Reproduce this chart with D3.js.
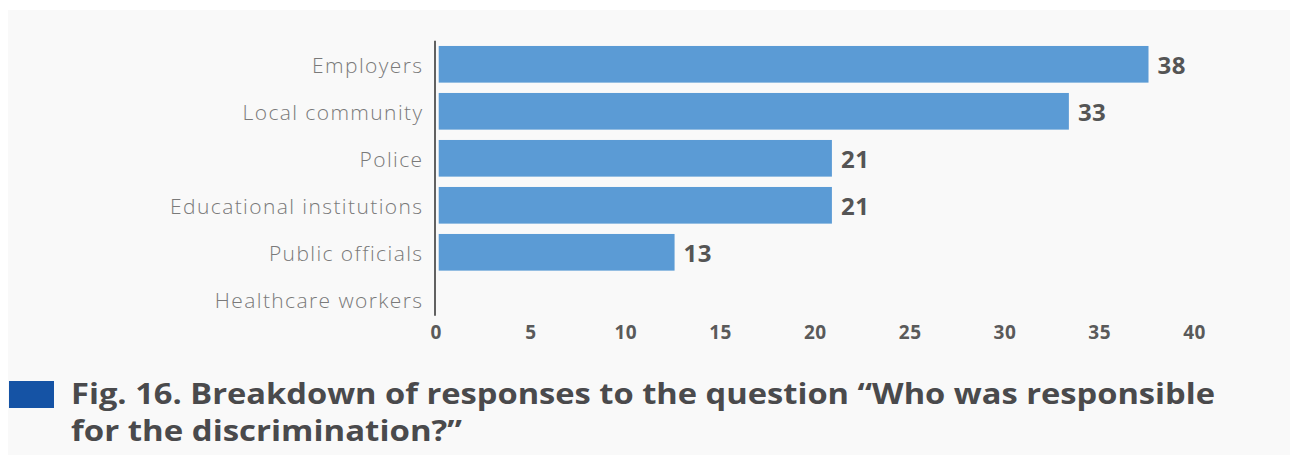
<!DOCTYPE html>
<html>
<head>
<meta charset="utf-8">
<script src="https://cdn.jsdelivr.net/npm/d3@7/dist/d3.min.js"></script>
<style>
html, body { margin: 0; padding: 0; background: #ffffff; }
svg { display: block; }
</style>
</head>
<body>
<svg id="chart" width="1290" height="455"></svg>
<script>
const categories = ["Employers", "Local community", "Police", "Educational institutions", "Public officials", "Healthcare workers"];
const values = [37.6, 33.4, 20.9, 20.9, 12.6, 0];
const xTicks = [0, 5, 10, 15, 20, 25, 30, 35, 40];
const titleLines = ["Fig. 16. Breakdown of responses to the question \u201cWho was responsible", "for the discrimination?\u201d"];

const data = categories.map((c, i) => ({ cat: c, val: values[i] }));
const FONT = "'Open Sans', Lato, sans-serif";

const svg = d3.select("#chart");

// background panel
svg.append("rect").attr("x", 8).attr("y", 10).attr("width", 1282).attr("height", 445).attr("fill", "#f9f9f9");

const x = d3.scaleLinear().domain([0, 40]).range([435.7, 1194]);
const y = d3.scaleBand().domain(categories).range([40.8, 322.8]).paddingInner(0.22).paddingOuter(0.11);

// bars
svg.append("g").selectAll("rect").data(data.filter(d => d.val > 0)).join("rect")
  .attr("x", x(0) + 3)
  .attr("y", d => y(d.cat))
  .attr("width", d => x(d.val) - x(0) - 3)
  .attr("height", y.bandwidth())
  .attr("fill", "#5b9bd5");

// value labels
svg.append("g").selectAll("text").data(data.filter(d => d.val > 0)).join("text")
  .attr("x", d => x(d.val) + 9)
  .attr("y", d => y(d.cat) + y.bandwidth() / 2 + 9.5)
  .attr("font-family", FONT)
  .attr("font-weight", 700)
  .attr("font-size", 24)
  .attr("letter-spacing", 0.5)
  .attr("fill", "#555555")
  .text(d => d3.format(".0f")(d.val));

// category labels
svg.append("g").selectAll("text").data(categories).join("text")
  .attr("x", 423.5)
  .attr("y", d => y(d) + y.bandwidth() / 2 + 9)
  .attr("text-anchor", "end")
  .attr("font-family", FONT)
  .attr("font-weight", 300)
  .attr("font-size", 21)
  .attr("letter-spacing", 1.4)
  .attr("fill", "#7a7a7a")
  .text(d => d);

// axis line (vertical)
svg.append("line")
  .attr("x1", x(0) - 0.7).attr("x2", x(0) - 0.7)
  .attr("y1", y.range()[0]).attr("y2", y.range()[1] - 7)
  .attr("stroke", "#616161").attr("stroke-width", 2);

// x axis
const xAxis = d3.axisBottom(x).tickValues(xTicks).tickSize(0).tickPadding(0);
const gx = svg.append("g").attr("transform", "translate(0,325.5)").call(xAxis);
gx.select(".domain").remove();
gx.selectAll("text")
  .attr("dy", "0.71em")
  .attr("font-family", FONT)
  .attr("font-weight", 700)
  .attr("font-size", 19)
  .attr("letter-spacing", 0.5)
  .attr("fill", "#5a5a5a");

// legend square + title
svg.append("rect").attr("x", 9).attr("y", 381).attr("width", 45).attr("height", 27).attr("fill", "#1553a5");
const titleWidths = [1144, 391];
svg.append("g").selectAll("text").data(titleLines).join("text")
  .attr("x", 71)
  .attr("y", (d, i) => 404 + i * 37)
  .attr("font-family", FONT)
  .attr("font-weight", 700)
  .attr("font-size", 29)
  .attr("fill", "#4a4a4c")
  .attr("textLength", (d, i) => titleWidths[i])
  .attr("lengthAdjust", "spacingAndGlyphs")
  .text(d => d);
</script>
</body>
</html>
